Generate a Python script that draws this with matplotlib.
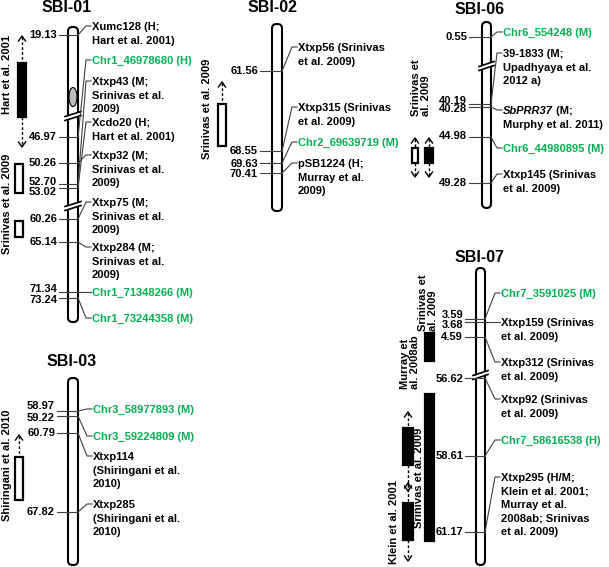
import matplotlib
matplotlib.use('Agg')
import matplotlib.pyplot as plt
from matplotlib.patches import FancyBboxPatch, Rectangle, Ellipse, Polygon

plt.rcParams['font.family'] = ['Liberation Sans', 'DejaVu Sans']
plt.rcParams['font.weight'] = 'bold'

GREEN = '#00B050'
LINE = '#404040'
FS = 8

# ---- data: marker positions (Mb) and marker labels per chromosome ----
sbi01_pos = ['19.13', '46.97', '50.26', '52.70', '53.02', '60.26', '65.14', '71.34', '73.24']
sbi01_markers = ['Xumc128 (H;\nHart et al. 2001)', 'Chr1_46978680 (H)',
                 'Xtxp43 (M;\nSrinivas et al.\n2009)', 'Xcdo20 (H;\nHart et al. 2001)',
                 'Xtxp32 (M;\nSrinivas et al.\n2009)', 'Xtxp75 (M;\nSrinivas et al.\n2009)',
                 'Xtxp284 (M;\nSrinivas et al.\n2009)', 'Chr1_71348266 (M)', 'Chr1_73244358 (M)']
sbi01_green = [False, True, False, False, False, False, False, True, True]
sbi01_link = [0, 1, 3, 4, 2, 5, 6, 7, 8]   # marker -> position index

sbi02_pos = ['61.56', '68.55', '69.63', '70.41']
sbi02_markers = ['Xtxp56 (Srinivas\net al. 2009)', 'Xtxp315 (Srinivas\net al. 2009)',
                 'Chr2_69639719 (M)', 'pSB1224 (H;\nMurray et al.\n2009)']
sbi02_green = [False, False, True, False]
sbi02_link = [0, 1, 2, 3]

sbi03_pos = ['58.97', '59.22', '60.79', '67.82']
sbi03_markers = ['Chr3_58977893 (M)', 'Chr3_59224809 (M)',
                 'Xtxp114\n(Shiringani et al.\n2010)', 'Xtxp285\n(Shiringani et al.\n2010)']
sbi03_green = [True, True, False, False]
sbi03_link = [0, 1, 2, 3]

sbi06_pos = ['0.55', '40.19', '40.28', '44.98', '49.28']
sbi06_markers = ['Chr6_554248 (M)', '39-1833 (M;\nUpadhyaya et al.\n2012 a)',
                 'SbPRR37| (M;\nMurphy et al. 2011)', 'Chr6_44980895 (M)',
                 'Xtxp145 (Srinivas\net al. 2009)']
sbi06_green = [True, False, False, True, False]
sbi06_link = [0, 1, 2, 3, 4]

sbi07_pos = ['3.59', '3.68', '4.59', '56.62', '58.61', '61.17']
sbi07_markers = ['Chr7_3591025 (M)', 'Xtxp159 (Srinivas\net al. 2009)',
                 'Xtxp312 (Srinivas\net al. 2009)', 'Xtxp92 (Srinivas\net al. 2009)',
                 'Chr7_58616538 (H)',
                 'Xtxp295 (H/M;\nKlein et al. 2001;\nMurray et al.\n2008ab; Srinivas\net al. 2009)']
sbi07_green = [True, False, False, False, True, False]
sbi07_link = [0, 1, 2, 3, 4, 5]

# ---- layout (pixel coordinates) ----
layout = {
    'SBI-01': dict(title=(67, 8), chrom=(68, 78, 27, 322), num_x=57, label_x=92,
                   tick_y=[35, 137, 163, 184, 188, 219, 242, 292, 298],
                   num_y=[35, 137, 163, 182, 192, 219, 242, 289, 300],
                   label_y=[26, 60, 81, 122, 155, 202, 247, 292, 318],
                   breaks=[113, 203]),
    'SBI-02': dict(title=(273, 8), chrom=(272, 282, 24, 211), num_x=258, label_x=298,
                   tick_y=[71, 151, 163, 173], num_y=[71, 151, 164, 174],
                   label_y=[47, 107, 142, 163], breaks=[]),
    'SBI-03': dict(title=(72, 361), chrom=(68, 78, 378, 565), num_x=55, label_x=93,
                   tick_y=[411, 416, 433, 512], num_y=[406, 418, 433, 512],
                   label_y=[409, 436, 456, 504], breaks=[]),
    'SBI-06': dict(title=(480, 9), chrom=(482, 491, 22, 208), num_x=467, label_x=503,
                   tick_y=[37, 104, 107, 137, 183], num_y=[37, 101, 109, 136, 183],
                   label_y=[32, 53, 110, 148, 174], breaks=[63]),
    'SBI-07': dict(title=(480, 257), chrom=(476, 485, 268, 565), num_x=463, label_x=501,
                   tick_y=[319, 322, 337, 378, 456, 532], num_y=[315, 325, 337, 379, 456, 532],
                   label_y=[293, 322, 362, 399, 440, 477], breaks=[372]),
}

chroms = [
    ('SBI-01', sbi01_pos, sbi01_markers, sbi01_green, sbi01_link),
    ('SBI-02', sbi02_pos, sbi02_markers, sbi02_green, sbi02_link),
    ('SBI-03', sbi03_pos, sbi03_markers, sbi03_green, sbi03_link),
    ('SBI-06', sbi06_pos, sbi06_markers, sbi06_green, sbi06_link),
    ('SBI-07', sbi07_pos, sbi07_markers, sbi07_green, sbi07_link),
]

fig = plt.figure(figsize=(6.09, 5.67), dpi=100)
ax = fig.add_axes([0, 0, 1, 1])
ax.set_xlim(0, 609)
ax.set_ylim(567, 0)
ax.axis('off')
renderer = fig.canvas.get_renderer()


def arrow_head(x, y, up=True):
    s = 1 if up else -1
    ax.plot([x - 3.5, x, x + 3.5], [y + s * 5, y, y + s * 5], color='black', lw=1)


def dashed(x, y0, y1):
    ax.plot([x, x], [y0, y1], color='black', lw=1, ls=(0, (2, 1.5)))


def qtl_bar(x0, x1, y0, y1, filled):
    ax.add_patch(Rectangle((x0, y0), x1 - x0, y1 - y0, fc='black' if filled else 'white',
                           ec='black', lw=1.6, zorder=3))


def vlabel(x, y, text, va='center'):
    ax.text(x, y, text, rotation=90, ha='center', va=va, fontsize=FS,
            multialignment='left', linespacing=1.0)


for name, pos, markers, green, link in chroms:
    L = layout[name]
    xl, xr, yt, yb = L['chrom']
    ax.text(L['title'][0], L['title'][1], name, ha='center', va='center',
            fontsize=11.5, fontweight='bold')
    ax.add_patch(FancyBboxPatch((xl, yt), xr - xl, yb - yt,
                                boxstyle='round,pad=0,rounding_size=4.5',
                                fc='white', ec='black', lw=1.5, zorder=2))
    for b in L['breaks']:
        ax.add_patch(Polygon([(xl - 2, b + 4), (xr + 2, b - 1), (xr + 2, b + 2), (xl - 2, b + 7)],
                             closed=True, fc='white', ec='none', zorder=4))
        ax.plot([xl - 3, xr + 3], [b + 3.5, b - 1.5], color='black', lw=1.2, zorder=5)
        ax.plot([xl - 3, xr + 3], [b + 7.5, b + 2.5], color='black', lw=1.2, zorder=5)
    for p, ty, ny in zip(pos, L['tick_y'], L['num_y']):
        ax.text(L['num_x'], ny, p, ha='right', va='center', fontsize=FS)
        ax.plot([L['num_x'] + 2, xr], [ty, ty], color=LINE, lw=0.8, zorder=6)
    lx = L['label_x']
    for m, g, k, ly in zip(markers, green, link, L['label_y']):
        ty = L['tick_y'][k]
        ax.plot([xr, lx - 6, lx - 1], [ty, ly, ly], color=LINE, lw=0.8, zorder=6)
        col = GREEN if g else 'black'
        if '|' in m:
            # first word in italics, rest upright
            first, rest = m.split('|')
            rest1, rest2 = rest.split('\n', 1)
            t = ax.text(lx, ly - 4, first, ha='left', va='top', fontsize=FS,
                        style='italic', color=col)
            w = t.get_window_extent(renderer).width
            ax.text(lx + w, ly - 4, rest1, ha='left', va='top', fontsize=FS, color=col)
            ax.text(lx, ly + 10.5, rest2, ha='left', va='top', fontsize=FS,
                    color=col, linespacing=1.45)
        else:
            ax.text(lx, ly - 4, m, ha='left', va='top', fontsize=FS, color=col,
                    linespacing=1.45)

# grey ellipse on SBI-01
ax.add_patch(Ellipse((73, 97), 8, 19, fc='#bdbdbd', ec='black', lw=0.8, zorder=3))

# ---- QTL bars ----
# SBI-01
qtl_bar(18, 26, 63, 117, True)
dashed(22, 37, 63); arrow_head(22, 36, up=True)
dashed(22, 117, 146); arrow_head(22, 147, up=False)
vlabel(7, 75, 'Hart et al. 2001')
qtl_bar(15, 23, 164, 193, False)
qtl_bar(15, 23, 221, 237, False)
vlabel(7, 204, 'Srinivas et al. 2009')

# SBI-02
qtl_bar(218, 226, 104, 146, False)
dashed(222, 83, 104); arrow_head(222, 82, up=True)
vlabel(207, 109, 'Srinivas et al. 2009')

# SBI-03
qtl_bar(15, 23, 457, 500, False)
dashed(19, 436, 457); arrow_head(19, 435, up=True)
vlabel(7, 465, 'Shiringani et al. 2010')

# SBI-06
qtl_bar(412, 418, 148, 163, False)
qtl_bar(425, 433, 148, 163, True)
for qx in (415, 429):
    dashed(qx, 139, 148); arrow_head(qx, 138, up=True)
    dashed(qx, 163, 176); arrow_head(qx, 177, up=False)
vlabel(421, 116, 'Srinivas et\nal. 2009', va='bottom')

# SBI-07
qtl_bar(425, 434, 333, 361, True)
qtl_bar(425, 434, 394, 541, True)
vlabel(428, 331, 'Srinivas et\nal. 2009', va='bottom')
qtl_bar(403, 413, 428, 465, True)
dashed(408, 413, 428); arrow_head(408, 412, up=True)
dashed(408, 465, 490); arrow_head(408, 491, up=False)
qtl_bar(403, 413, 503, 540, True)
dashed(408, 484, 503); arrow_head(408, 483, up=True)
dashed(408, 540, 560); arrow_head(408, 561, up=False)
vlabel(410, 389, 'Murray et\nal. 2008ab', va='bottom')
vlabel(419, 478, 'Srinivas et al. 2009')
vlabel(394, 522, 'Klein et al. 2001')

fig.savefig('out.png', dpi=100)
